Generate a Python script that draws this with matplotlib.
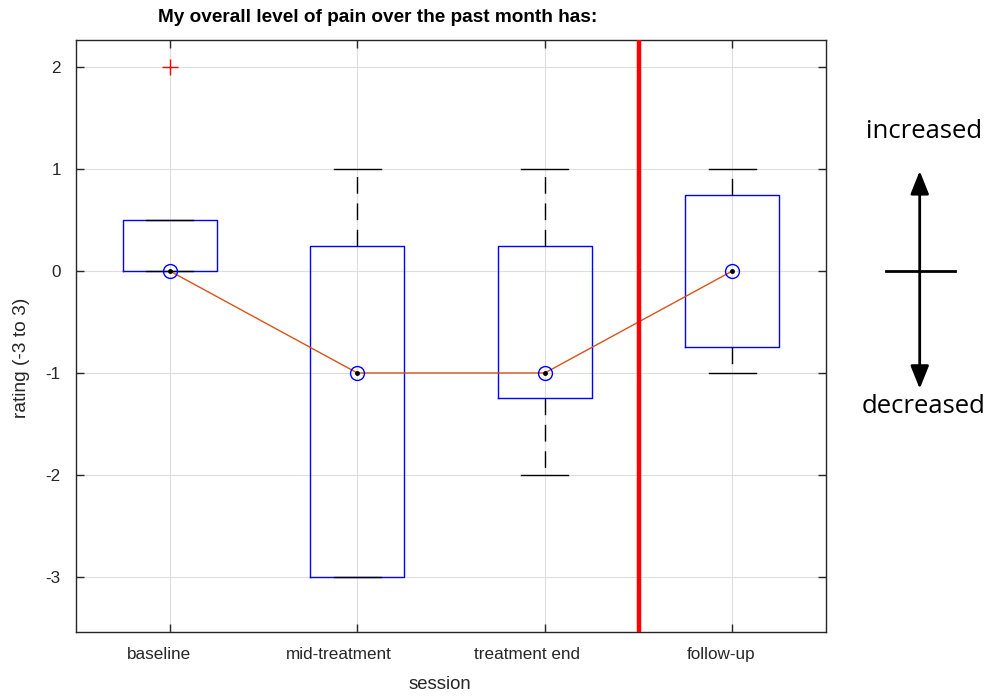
import matplotlib
matplotlib.use("Agg")
import matplotlib.pyplot as plt
from matplotlib.transforms import blended_transform_factory

plt.rcParams['font.family'] = ['Liberation Sans', 'DejaVu Sans']
plt.rcParams['axes.unicode_minus'] = False

# Pain-change ratings per session
sessions = ["baseline", "mid-treatment", "treatment end", "follow-up"]
medians = [0, -1, -1, 0]
q1 = [0, -3, -1.25, -0.75]
q3 = [0.5, 0.25, 0.25, 0.75]
whisker_lo = [0, -3, -2, -1]
whisker_hi = [0.5, 1, 1, 1]
outliers = [[2], [], [], []]
yticks = [-3, -2, -1, 0, 1, 2]

TEXT_GREY = (0.15, 0.15, 0.15)
CENTER_SHIFT = 0.17  # centred labels sit left of their anchor by this share of their width

fig = plt.figure(figsize=(9.9, 6.98), dpi=100)
ax = fig.add_axes([0.0768, 0.0946, 0.7576, 0.848])
renderer = fig.canvas.get_renderer()

positions = list(range(1, len(sessions) + 1))
stats = []
for i in range(len(sessions)):
    stats.append(dict(med=medians[i], q1=q1[i], q3=q3[i],
                      whislo=whisker_lo[i], whishi=whisker_hi[i],
                      fliers=outliers[i], label=sessions[i]))

ax.bxp(stats, positions=positions, widths=0.5, capwidths=0.25,
       boxprops=dict(color=(0, 0, 1), linewidth=1.0),
       whiskerprops=dict(color='black', linewidth=1.0, linestyle=(0, (12, 7))),
       capprops=dict(color='black', linewidth=1.0),
       medianprops=dict(linewidth=0),
       flierprops=dict(marker='+', markeredgecolor='red', markersize=11,
                       markeredgewidth=1.0, linestyle='none'),
       zorder=3)

# median trend line and target markers
ax.plot(positions, medians, color=(0.85, 0.325, 0.098), linewidth=1.0, zorder=4)
ax.plot(positions, medians, linestyle='none', marker='o', markersize=10,
        markerfacecolor='none', markeredgecolor=(0, 0, 1), markeredgewidth=1.0, zorder=5)
ax.plot(positions, medians, linestyle='none', marker='o', markersize=2.5,
        color='black', zorder=6)

# separator between treatment and follow-up
ax.axvline(3.5, color=(1, 0, 0), linewidth=3.2, zorder=6)

ax.set_xlim(0.5, 4.5)
ax.set_ylim(-3.54, 2.265)
ax.set_xticks(positions)
ax.set_xticklabels([])
ax.set_yticks(yticks)
ax.set_yticklabels([str(t) for t in yticks])
ax.grid(True, color=(0.87, 0.87, 0.87), linewidth=0.8, zorder=0)
ax.set_axisbelow(True)
ax.tick_params(direction='in', length=6, width=1.0, top=True, right=True,
               labelsize=12.3, colors=TEXT_GREY, pad=11)
for s in ax.spines.values():
    s.set_color(TEXT_GREY)
    s.set_linewidth(1.0)


def text_width_pt(s, **kw):
    t = fig.text(0, 0, s, **kw)
    w = t.get_window_extent(renderer).width * 72.0 / fig.dpi
    t.remove()
    return w


# session labels under the ticks
xtrans = blended_transform_factory(ax.transData, ax.transAxes)
for pos, name in zip(positions, sessions):
    w = text_width_pt(name, fontsize=12.3)
    ax.annotate(name, xy=(pos, 0), xycoords=xtrans,
                xytext=(-CENTER_SHIFT * w, -11), textcoords='offset points',
                ha='center', va='top', fontsize=12.3, color=TEXT_GREY,
                annotation_clip=False)

# axis titles
fig.text(0.4444, 0.020, "session", ha='center', va='center',
         fontsize=13.3, color=TEXT_GREY)
fig.text(0.0222, 0.4878, "rating (-3 to 3)", ha='center', va='center',
         rotation=90, fontsize=13.8, color=TEXT_GREY)
fig.text(0.3813, 0.9756, "My overall level of pain over the past month has:",
         ha='center', va='center', fontsize=13.7, fontweight='bold')

# direction key on the right
fig.text(0.9333, 0.811, "increased", ha='center', va='center', fontsize=18.5,
         family=['Open Sans', 'DejaVu Sans'])
fig.text(0.9328, 0.417, "decreased", ha='center', va='center', fontsize=18.5,
         family=['Open Sans', 'DejaVu Sans'])
arrow_style = '-|>,head_length=0.7,head_width=0.28'
fig.add_artist(matplotlib.patches.FancyArrowPatch(
    (0.929, 0.612), (0.929, 0.755), transform=fig.transFigure,
    arrowstyle=arrow_style, color='black', linewidth=2,
    mutation_scale=20, shrinkA=0, shrinkB=0))
fig.add_artist(matplotlib.patches.FancyArrowPatch(
    (0.929, 0.612), (0.929, 0.443), transform=fig.transFigure,
    arrowstyle=arrow_style, color='black', linewidth=2,
    mutation_scale=20, shrinkA=0, shrinkB=0))
fig.add_artist(matplotlib.lines.Line2D([0.895, 0.965], [0.612, 0.612],
                                       transform=fig.transFigure, color='black',
                                       linewidth=2))

fig.savefig("out.png", dpi=100)
